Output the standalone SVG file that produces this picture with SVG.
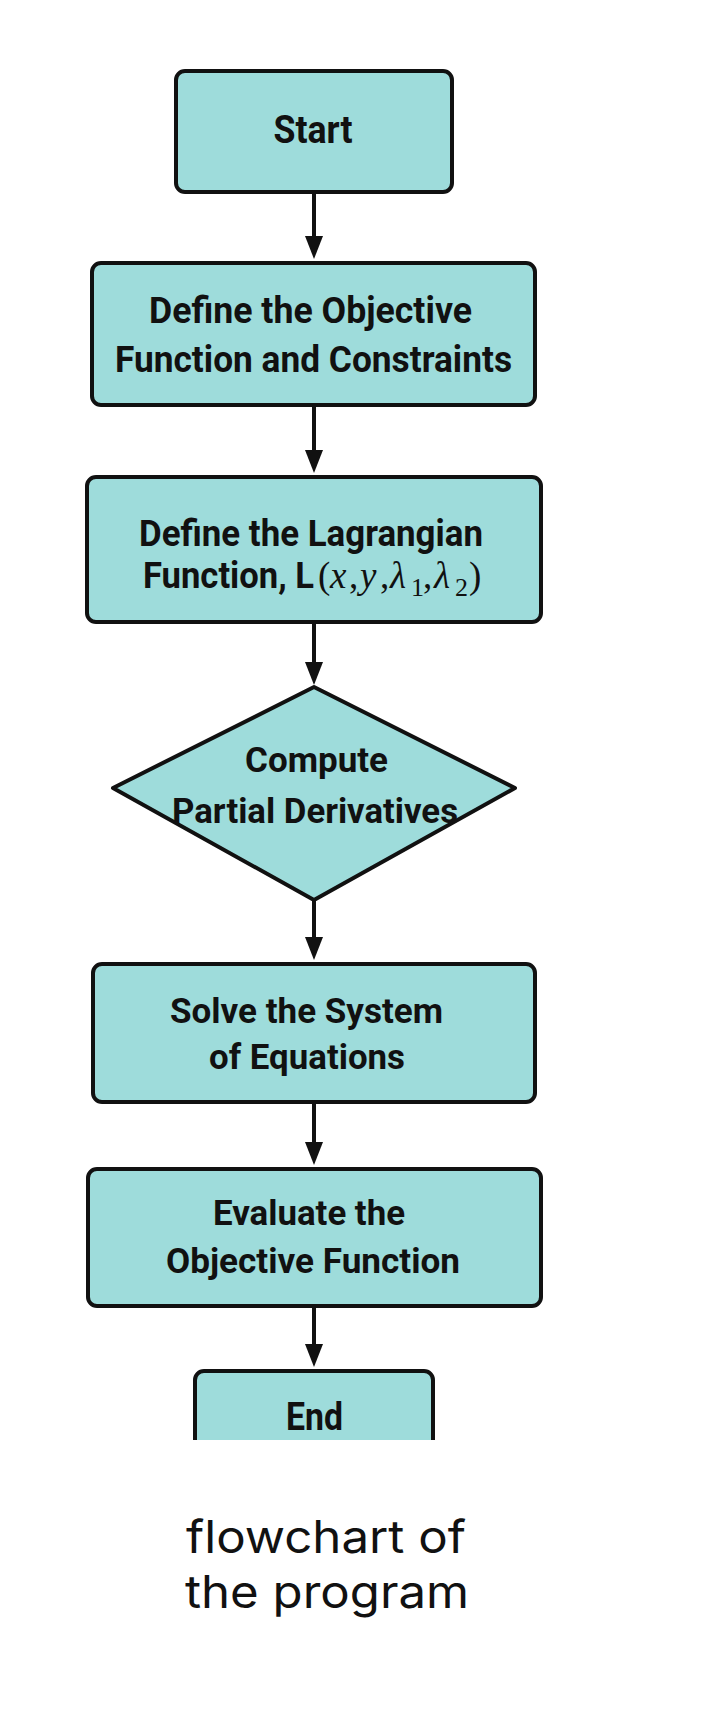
<svg xmlns="http://www.w3.org/2000/svg" width="706" height="1726" viewBox="0 0 706 1726">
<style>
.box{fill:#9edcdb;stroke:#111;stroke-width:4;stroke-linejoin:round}
.lbl{font-family:Roboto,"Liberation Sans",sans-serif;font-weight:700;fill:#111;text-anchor:middle}
.math{font-family:"Liberation Serif",serif;fill:#111}
.it{font-style:italic}
.cap{font-family:Inter,"Liberation Sans",Arial,sans-serif;font-weight:400;font-size:45px;fill:#111;text-anchor:middle}
.conn{stroke:#111;stroke-width:4;fill:none}
</style>
<defs>
<marker id="arr" markerUnits="userSpaceOnUse" viewBox="0 0 23 18" refX="17" refY="9" markerWidth="23" markerHeight="18" orient="auto">
<path d="M0,0 L23,9 L0,18 z" fill="#111"/>
</marker>
</defs>
<rect width="706" height="1726" fill="#fff"/>
<g id="connectors">
<path class="conn" d="M314,194 V253" marker-end="url(#arr)"/>
<path class="conn" d="M314,407 V467" marker-end="url(#arr)"/>
<path class="conn" d="M314,624 V679" marker-end="url(#arr)"/>
<path class="conn" d="M314,900 V954" marker-end="url(#arr)"/>
<path class="conn" d="M314,1104 V1159" marker-end="url(#arr)"/>
<path class="conn" d="M314,1308 V1361" marker-end="url(#arr)"/>
</g>
<g id="start">
<rect class="box" x="176" y="71" width="276" height="121" rx="9"/>
<text class="lbl" x="313" y="143" font-size="38" textLength="79" lengthAdjust="spacingAndGlyphs">Start</text>
</g>
<g id="define-objective">
<rect class="box" x="92" y="263" width="443" height="142" rx="9"/>
<text class="lbl" x="310.5" y="323" font-size="36" textLength="323" lengthAdjust="spacingAndGlyphs">Define the Objective</text>
<text class="lbl" x="313.5" y="372" font-size="36" textLength="397" lengthAdjust="spacingAndGlyphs">Function and Constraints</text>
</g>
<g id="define-lagrangian">
<rect class="box" x="87" y="477" width="454" height="145" rx="9"/>
<text class="lbl" x="311" y="546" font-size="37" textLength="344" lengthAdjust="spacingAndGlyphs">Define the Lagrangian</text>
<text class="lbl" x="228.5" y="588" font-size="36" textLength="171" lengthAdjust="spacingAndGlyphs">Function, L</text>
<text class="math" y="588" font-size="37"><tspan x="318">(</tspan><tspan class="it" x="330">x</tspan><tspan x="349">,</tspan><tspan class="it" x="360">y</tspan><tspan x="380">,</tspan><tspan class="it" x="390">λ</tspan><tspan x="411" y="596" font-size="26">1</tspan><tspan x="423" y="588">,</tspan><tspan class="it" x="434">λ</tspan><tspan x="455" y="596" font-size="26">2</tspan><tspan x="469" y="588">)</tspan></text>
</g>
<g id="compute-partials">
<polygon class="box" points="314,687 515,788 314,900 113,788"/>
<text class="lbl" x="316.5" y="772" font-size="35" textLength="143" lengthAdjust="spacingAndGlyphs">Compute</text>
<text class="lbl" x="315" y="823" font-size="35" textLength="286" lengthAdjust="spacingAndGlyphs">Partial Derivatives</text>
</g>
<g id="solve-system">
<rect class="box" x="93" y="964" width="442" height="138" rx="9"/>
<text class="lbl" x="306.5" y="1023" font-size="35" textLength="273" lengthAdjust="spacingAndGlyphs">Solve the System</text>
<text class="lbl" x="307" y="1069" font-size="35" textLength="196" lengthAdjust="spacingAndGlyphs">of Equations</text>
</g>
<g id="evaluate-objective">
<rect class="box" x="88" y="1169" width="453" height="137" rx="9"/>
<text class="lbl" x="309" y="1225" font-size="35" textLength="192" lengthAdjust="spacingAndGlyphs">Evaluate the</text>
<text class="lbl" x="313" y="1273" font-size="35" textLength="294" lengthAdjust="spacingAndGlyphs">Objective Function</text>
</g>
<g id="end">
<path class="box" d="M195,1440 V1380 A9,9 0 0 1 204,1371 H424 A9,9 0 0 1 433,1380 V1440"/>
<text class="lbl" x="314.5" y="1430" font-size="38" textLength="57" lengthAdjust="spacingAndGlyphs">End</text>
</g>
<g id="caption">
<text class="cap" x="326" y="1553" textLength="280" lengthAdjust="spacingAndGlyphs">flowchart of</text>
<text class="cap" x="327" y="1608" textLength="284" lengthAdjust="spacingAndGlyphs">the program</text>
</g>
</svg>
